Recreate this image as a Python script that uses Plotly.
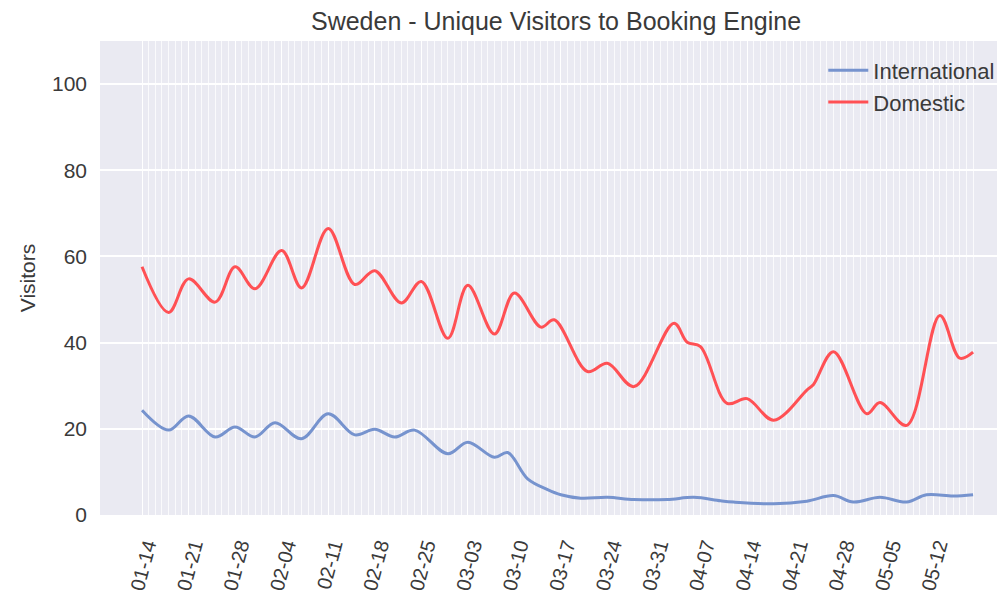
import plotly.graph_objects as go
import pandas as pd

# Daily series (2020)
dom_dates = ["2020-01-14", "2020-01-18", "2020-01-21", "2020-01-25", "2020-01-28", "2020-01-31",
             "2020-02-04", "2020-02-07", "2020-02-11", "2020-02-15", "2020-02-18", "2020-02-22",
             "2020-02-25", "2020-02-29", "2020-03-03", "2020-03-07", "2020-03-10", "2020-03-14",
             "2020-03-16", "2020-03-21", "2020-03-24", "2020-03-28", "2020-04-03", "2020-04-05",
             "2020-04-07", "2020-04-11", "2020-04-14", "2020-04-18", "2020-04-23", "2020-04-24",
             "2020-04-27", "2020-05-02", "2020-05-04", "2020-05-08", "2020-05-13", "2020-05-16",
             "2020-05-18"]
domestic = [57.6, 47.0, 54.8, 49.4, 57.6, 52.5, 61.4, 52.7, 66.5, 53.5, 56.7, 49.2,
            54.2, 41.0, 53.3, 42.0, 51.5, 43.6, 45.3, 33.3, 35.2, 29.8, 44.5, 40.1,
            39.1, 25.9, 27.0, 22.0, 29.0, 30.3, 37.9, 23.5, 26.1, 20.8, 46.3, 36.4, 37.8]

intl_dates = ["2020-01-14", "2020-01-18", "2020-01-21", "2020-01-25", "2020-01-28", "2020-01-31",
              "2020-02-03", "2020-02-07", "2020-02-11", "2020-02-15", "2020-02-18", "2020-02-21",
              "2020-02-24", "2020-02-29", "2020-03-03", "2020-03-07", "2020-03-09", "2020-03-12",
              "2020-03-15", "2020-03-17", "2020-03-20", "2020-03-24", "2020-03-28", "2020-04-02",
              "2020-04-06", "2020-04-10", "2020-04-12", "2020-04-18", "2020-04-23", "2020-04-27",
              "2020-04-30", "2020-05-04", "2020-05-08", "2020-05-11", "2020-05-15", "2020-05-18"]
international = [24.3, 19.7, 23.0, 18.1, 20.4, 18.1, 21.4, 17.7, 23.5, 18.6, 19.9, 18.1,
                 19.7, 14.2, 16.9, 13.4, 14.5, 8.4, 5.9, 4.7, 3.9, 4.1, 3.6, 3.6,
                 4.1, 3.3, 3.0, 2.6, 3.2, 4.5, 3.0, 4.1, 3.0, 4.7, 4.4, 4.7]

tick_dates = pd.date_range("2020-01-14", "2020-05-12", freq="7D")
tick_labels = [d.strftime("%m-%d") for d in tick_dates]
day_grid = pd.date_range("2020-01-14", "2020-05-18", freq="D")

BLUE = "rgb(118,147,206)"
RED = "rgb(255,80,84)"
TXT = "#3a3a3a"
FONT = "Liberation Sans, Arial, sans-serif"

fig = go.Figure()
fig.add_trace(go.Scatter(x=intl_dates, y=international, mode="lines", name="International",
                         legendgroup="a", line=dict(color=BLUE, width=3, shape="spline", smoothing=1.0)))
fig.add_trace(go.Scatter(x=dom_dates, y=domestic, mode="lines", name="Domestic",
                         legendgroup="b", line=dict(color=RED, width=3, shape="spline", smoothing=1.0)))

# page body has an 8px margin, so the figure is sized/offset to compensate
fig.update_layout(
    width=997, height=587,
    margin=dict(l=92, r=2, t=33, b=80),
    paper_bgcolor="white", plot_bgcolor="#EAEAF2",
    font=dict(family=FONT, color=TXT),
    title=dict(text="Sweden - Unique Visitors to Booking Engine", x=0.5497, xanchor="center",
               y=1.0, yanchor="top", pad=dict(t=4, b=0), font=dict(size=25, color=TXT)),
    legend=dict(x=0.997, xanchor="right", y=0.982, yanchor="top", bgcolor="rgba(0,0,0,0)",
                font=dict(size=22, color=TXT), traceorder="grouped", tracegroupgap=0,
                itemwidth=40),
    showlegend=True,
)
fig.update_xaxes(
    type="date", range=["2020-01-07 16:20", "2020-05-22 12:00"],
    tickvals=list(tick_dates), ticktext=tick_labels, tickangle=-75,
    tickfont=dict(size=20, color=TXT), ticks="", showline=False, zeroline=False,
    showgrid=True, gridcolor="white", gridwidth=1.2,
    minor=dict(tickmode="array", tickvals=list(day_grid), showgrid=True,
               gridcolor="rgba(255,255,255,0.75)", gridwidth=1.2),
    ticklabelstandoff=14, ticklabelshift=5,
)
fig.update_yaxes(
    range=[0, 110], tickvals=[0, 20, 40, 60, 80, 100], ticks="",
    tickfont=dict(size=21, color=TXT), showgrid=True, gridcolor="white", gridwidth=1.5,
    zeroline=False, showline=False, ticklabelstandoff=12,
    title=dict(text="Visitors", font=dict(size=21, color=TXT), standoff=10),
)
fig.write_html("out.html")
